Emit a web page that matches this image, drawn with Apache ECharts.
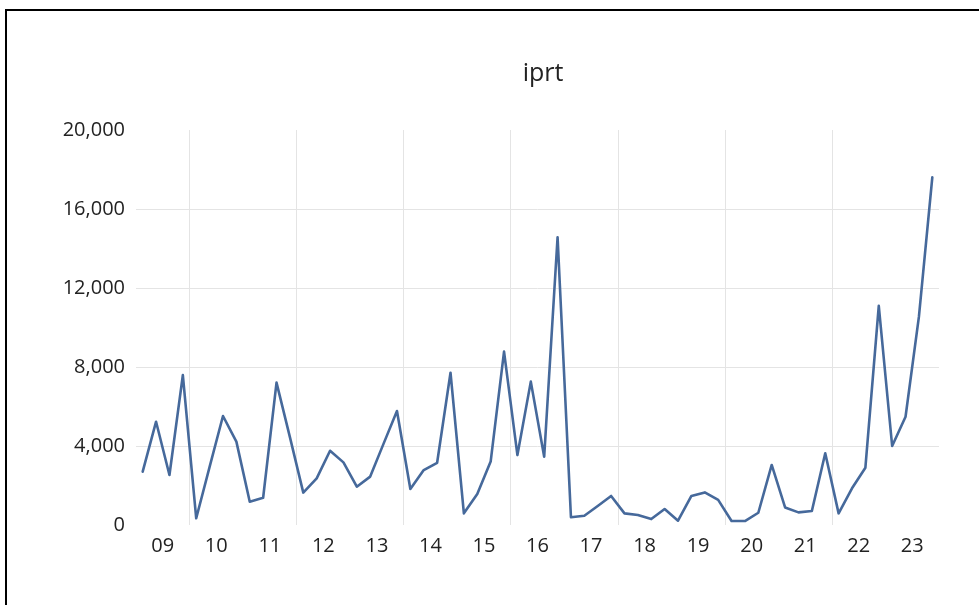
<!DOCTYPE html>
<html>
<head>
<meta charset="utf-8">
<script src="https://cdn.jsdelivr.net/npm/echarts@6/dist/echarts.min.js"></script>
<style>
  html, body { margin: 0; padding: 0; background: #ffffff; }
  #chart { width: 979px; height: 605px; }
</style>
</head>
<body>
<div id="chart"></div>
<script>
// Year labels shown on the x axis
const years = ['09','10','11','12','13','14','15','16','17','18','19','20','21','22','23'];
// Quarterly categories (2009Q1 .. 2023Q4)
const quarters = [];
years.forEach(function (y) { ['Q1','Q2','Q3','Q4'].forEach(function (q) { quarters.push(y + q); }); });
// iprt values
const iprt = [
  2700, 5230, 2530, 7590,
  340, 2940, 5520, 4220,
  1180, 1380, 7210, 4450,
  1640, 2360, 3760, 3170,
  1940, 2450, 4120, 5770,
  1820, 2780, 3150, 7710,
  590, 1570, 3210, 8780,
  3540, 7260, 3460, 14570,
  390, 470, 960, 1470,
  590, 510, 300, 810,
  220, 1470, 1650, 1270,
  200, 200, 620, 3040,
  890, 640, 710, 3630,
  590, 1860, 2900, 11100,
  4000, 5480, 10550, 17600
];
const yTicks = { min: 0, max: 20000, interval: 4000 };

const chart = echarts.init(document.getElementById('chart'), null, { renderer: 'canvas' });
const font = "'Open Sans', 'Noto Sans', sans-serif";
chart.setOption({
  backgroundColor: '#ffffff',
  animation: false,
  title: {
    text: 'iprt',
    left: 538,
    top: 56,
    textAlign: 'center',
    textStyle: { fontFamily: font, fontSize: 25, fontWeight: 'normal', color: '#222222' }
  },
  grid: { left: 136, right: 40, top: 130, bottom: 80, containLabel: false },
  xAxis: [
    {
      type: 'category',
      data: quarters,
      boundaryGap: true,
      show: false
    },
    {
      type: 'category',
      data: years,
      position: 'bottom',
      boundaryGap: true,
      axisLine: { show: false },
      axisTick: { show: false },
      axisLabel: {
        interval: 0,
        margin: 11,
        fontFamily: font,
        fontSize: 20,
        color: '#222222'
      },
      splitLine: {
        show: true,
        interval: function (idx) { return idx % 2 === 1; },
        showMinLine: true,
        showMaxLine: false,
        lineStyle: { color: '#e4e4e4', width: 1 }
      }
    }
  ],
  yAxis: {
    type: 'value',
    min: yTicks.min,
    max: yTicks.max,
    interval: yTicks.interval,
    axisLine: { show: false },
    axisTick: { show: false },
    axisLabel: {
      margin: 11,
      fontFamily: font,
      fontSize: 20,
      color: '#222222',
      formatter: function (v) { return v.toLocaleString('en-US'); }
    },
    splitLine: {
      show: true,
      showMinLine: false,
      showMaxLine: false,
      lineStyle: { color: '#e4e4e4', width: 1 }
    }
  },
  series: [{
    name: 'iprt',
    type: 'line',
    xAxisIndex: 0,
    data: iprt,
    symbol: 'none',
    smooth: false,
    lineStyle: { color: '#46699b', width: 2.6, join: 'round', cap: 'round' },
    itemStyle: { color: '#46699b' }
  }],
  graphic: [
    { type: 'line', shape: { x1: 5, y1: 10, x2: 979, y2: 10 }, style: { stroke: '#000000', lineWidth: 2 }, silent: true },
    { type: 'line', shape: { x1: 6, y1: 9, x2: 6, y2: 605 }, style: { stroke: '#000000', lineWidth: 2 }, silent: true }
  ]
});
</script>
</body>
</html>
